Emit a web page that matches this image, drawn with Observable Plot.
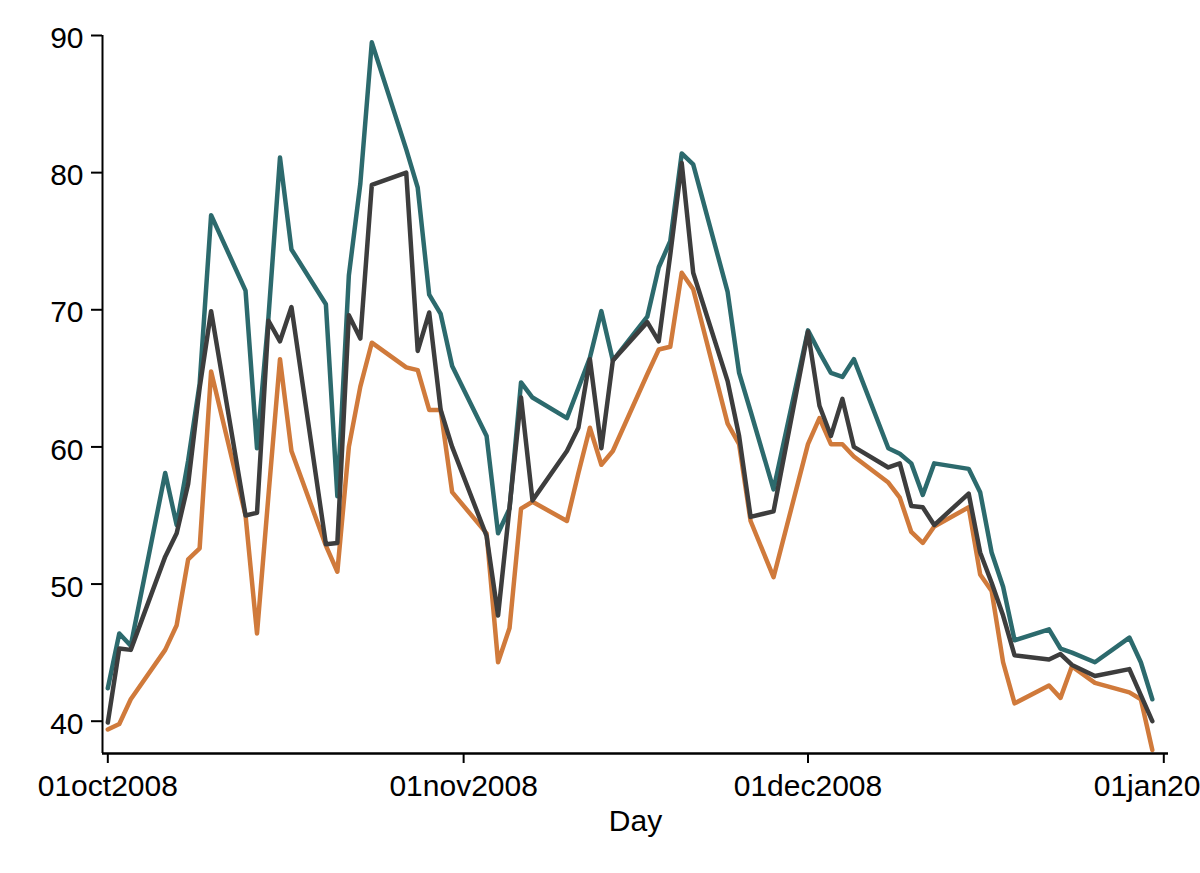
<!DOCTYPE html>
<html><head><meta charset="utf-8">
<script src="https://cdn.jsdelivr.net/npm/d3@7"></script>
<script src="https://cdn.jsdelivr.net/npm/@observablehq/plot@0.6"></script>
<style>
html,body{margin:0;padding:0;background:#fff;overflow:hidden;}
</style></head><body><div id="chart"></div>
<script>
const dates = [
  "2008-10-01","2008-10-02","2008-10-03","2008-10-06","2008-10-07","2008-10-08","2008-10-09","2008-10-10",
  "2008-10-13","2008-10-14","2008-10-15","2008-10-16","2008-10-17","2008-10-20","2008-10-21","2008-10-22",
  "2008-10-23","2008-10-24","2008-10-27","2008-10-28","2008-10-29","2008-10-30","2008-10-31",
  "2008-11-03","2008-11-04","2008-11-05","2008-11-06","2008-11-07","2008-11-10","2008-11-11","2008-11-12",
  "2008-11-13","2008-11-14","2008-11-17","2008-11-18","2008-11-19","2008-11-20","2008-11-21","2008-11-24",
  "2008-11-25","2008-11-26","2008-11-28",
  "2008-12-01","2008-12-02","2008-12-03","2008-12-04","2008-12-05","2008-12-08","2008-12-09","2008-12-10",
  "2008-12-11","2008-12-12","2008-12-15","2008-12-16","2008-12-17","2008-12-18","2008-12-19","2008-12-22",
  "2008-12-23","2008-12-24","2008-12-26","2008-12-29","2008-12-30","2008-12-31"
];
const tealSeries = [
  42.4,46.4,45.5,58.1,54.3,59.0,64.6,76.9,71.4,59.9,69.5,81.1,74.4,70.4,56.4,72.5,79.2,89.5,81.7,78.9,71.1,69.7,65.9,
  60.8,53.7,55.5,64.7,63.6,62.1,64.3,66.5,69.9,66.3,69.5,73.1,75.0,81.4,80.6,71.3,65.4,62.6,56.9,
  68.5,66.9,65.4,65.1,66.4,59.9,59.5,58.8,56.5,58.8,58.4,56.7,52.3,49.8,45.9,46.7,45.3,45.0,44.3,46.1,44.3,41.6
];
const darkSeries = [
  39.9,45.3,45.2,52.0,53.7,57.3,64.3,69.9,55.0,55.2,69.2,67.7,70.2,52.9,53.0,69.6,67.9,79.1,80.0,67.0,69.8,62.7,60.0,
  53.5,47.7,55.6,63.6,56.1,59.7,61.4,66.4,59.9,66.3,69.1,67.7,74.0,80.7,72.7,64.8,60.8,54.9,55.3,
  68.4,63.0,60.8,63.5,60.0,58.5,58.8,55.7,55.6,54.3,56.6,52.3,50.1,47.7,44.8,44.5,44.9,44.1,43.3,43.8,41.9,40.0
];
const orangeSeries = [
  39.4,39.8,41.6,45.2,47.0,51.8,52.6,65.5,55.0,46.4,56.5,66.4,59.7,52.8,50.9,60.0,64.4,67.6,65.8,65.6,62.7,62.7,56.7,
  53.7,44.3,46.8,55.5,56.0,54.6,58.1,61.4,58.7,59.7,65.3,67.1,67.3,72.7,71.5,61.7,60.2,54.6,50.5,
  60.2,62.1,60.2,60.2,59.3,57.4,56.3,53.8,53.0,54.2,55.6,50.7,49.5,44.3,41.3,42.6,41.7,44.0,42.8,42.1,41.6,37.9
];
const yTicks = [40, 50, 60, 70, 80, 90];
const xTickDates = ["2008-10-01","2008-11-01","2008-12-01","2009-01-01"];
const xTickLabels = ["01oct2008","01nov2008","01dec2008","01jan2009"];

const toDate = s => new Date(s + "T00:00:00Z");
const mk = arr => dates.map((d, i) => ({date: toDate(d), value: arr[i]}));
const tealRows = mk(tealSeries), darkRows = mk(darkSeries), orangeRows = mk(orangeSeries);
const xTicks = xTickDates.map(toDate);
const tickLabel = d => xTickLabels[xTicks.findIndex(t => +t === +d)];

const xMin = new Date(Date.UTC(2008, 8, 30, 12, 54));
const xMax = new Date(Date.UTC(2009, 0, 1, 9, 50));
const yMin = 37.645, yMax = 90;

const chart = Plot.plot({
  width: 1200,
  height: 873,
  marginLeft: 102,
  marginRight: 32,
  marginTop: 35,
  marginBottom: 120,
  style: {fontFamily: "'Liberation Sans', Arial, Helvetica, sans-serif", fontSize: "30px", color: "#000", background: "#fff", overflow: "visible"},
  x: {type: "utc", domain: [xMin, xMax], label: null},
  y: {domain: [yMin, yMax], label: null},
  marks: [
    Plot.line(orangeRows, {x: "date", y: "value", stroke: "#d07a3b", strokeWidth: 4.5}),
    Plot.line(tealRows, {x: "date", y: "value", stroke: "#2c6a6d", strokeWidth: 4.5}),
    Plot.line(darkRows, {x: "date", y: "value", stroke: "#3d3d3d", strokeWidth: 4.5}),
    Plot.ruleX([xMin], {stroke: "#000", strokeWidth: 2}),
    Plot.ruleY([yMin], {stroke: "#000", strokeWidth: 2.5}),
    Plot.axisY({ticks: yTicks, tickSize: 11, fill: "none", strokeWidth: 2, label: null}),
    Plot.axisY({ticks: yTicks, tickSize: 11, tickPadding: 8, stroke: "none", dy: 3, label: null, fill: "#000"}),
    Plot.axisX({ticks: xTicks, tickFormat: tickLabel, tickSize: 10, tickPadding: 11, strokeWidth: 2, label: "Day", labelAnchor: "center", labelOffset: 77, labelArrow: "none", fill: "#000"})
  ]
});
document.getElementById("chart").appendChild(chart);
</script></body></html>
